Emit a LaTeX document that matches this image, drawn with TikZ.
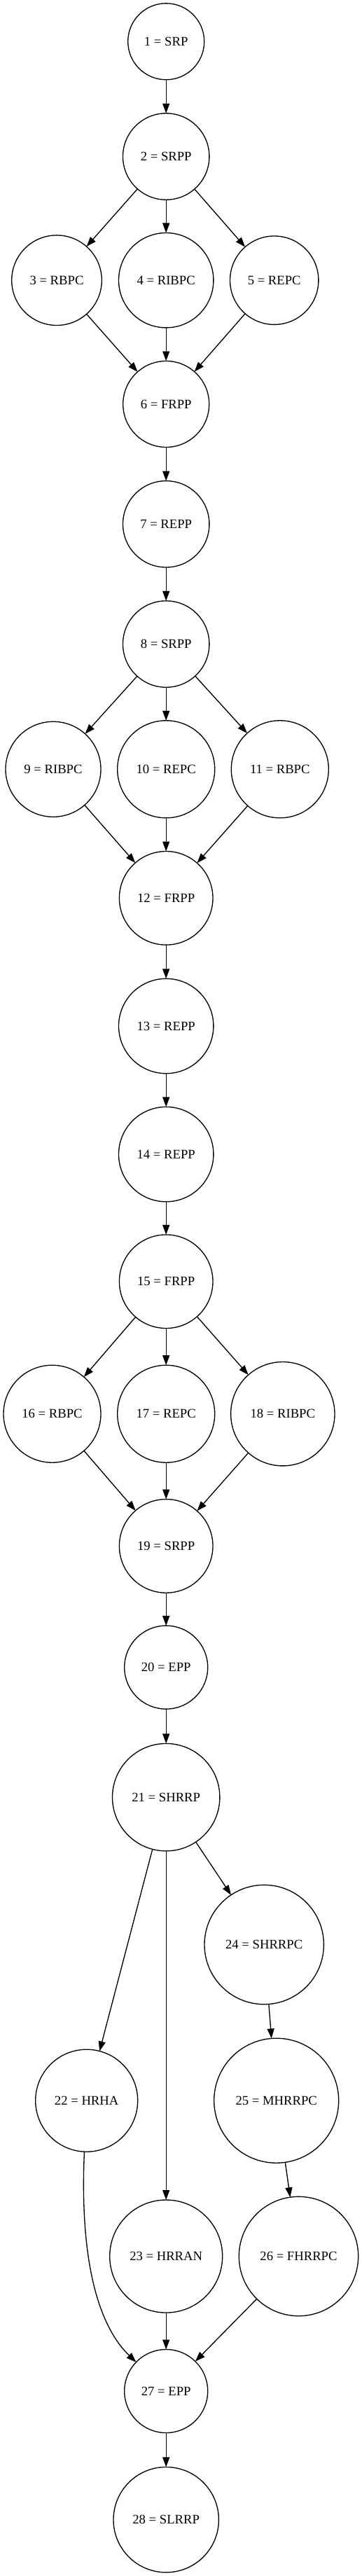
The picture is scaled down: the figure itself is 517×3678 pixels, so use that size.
\documentclass[tikz,border=0pt]{standalone}
\usepackage{fontspec}
\setmainfont{Liberation Serif}
\usetikzlibrary{arrows.meta}
\tikzset{
  gnode/.style={draw, circle, line width=1pt, inner sep=0pt, outer sep=0pt,
    font=\fontsize{14}{16}\selectfont},
  gedge/.style={line width=1pt, -{Triangle[length=10.5pt,width=7.5pt]}}
}
\newcommand{\gnd}[5]{\node[gnode, minimum size={2*#4*0.75pt}] (#1) at (#2,#3) {#5};}
\begin{document}
\begin{tikzpicture}[x=0.75pt,y=-0.75pt]
\useasboundingbox (0,0) rectangle (517,3678);
\gnd{n1}{237.2}{59.3}{54.5}{1 = SRP}
\gnd{n2}{237.2}{223.5}{61.7}{2 = SRPP}
\gnd{n3}{81}{400.2}{64.3}{3 = RBPC}
\gnd{n4}{237.2}{400.2}{67.7}{4 = RIBPC}
\gnd{n5}{391.7}{400.2}{63.2}{5 = REPC}
\gnd{n6}{237.2}{577}{61.5}{6 = FRPP}
\gnd{n7}{237.2}{748.3}{61.7}{7 = REPP}
\gnd{n8}{237.2}{919.6}{61.7}{8 = SRPP}
\gnd{n9}{76}{1098.3}{68}{9 = RIBPC}
\gnd{n10}{237.2}{1098.3}{69.5}{10 = REPC}
\gnd{n11}{399.8}{1098.3}{69.5}{11 = RBPC}
\gnd{n12}{237.2}{1282.3}{66.8}{12 = FRPP}
\gnd{n13}{237.2}{1465}{67.7}{13 = REPP}
\gnd{n14}{237.2}{1648.1}{67.7}{14 = REPP}
\gnd{n15}{237.2}{1829.7}{66.8}{15 = FRPP}
\gnd{n16}{74.5}{2018.7}{69.5}{16 = RBPC}
\gnd{n17}{237.2}{2018.7}{69.5}{17 = REPC}
\gnd{n18}{403.8}{2018.7}{74.2}{18 = RIBPC}
\gnd{n19}{237.2}{2207.4}{66.8}{19 = SRPP}
\gnd{n20}{237.2}{2380.6}{59.5}{20 = EPP}
\gnd{n21}{237.2}{2566.1}{76.7}{21 = SHRRP}
\gnd{n22}{123.7}{2999.2}{73}{22 = HRHA}
\gnd{n23}{237.2}{3221.5}{80.5}{23 = HRRAN}
\gnd{n24}{377.2}{2776.5}{85.2}{24 = SHRRPC}
\gnd{n25}{394.7}{2999.2}{89}{25 = MHRRPC}
\gnd{n26}{426.5}{3221.5}{85.2}{26 = FHRRPC}
\gnd{n27}{237.2}{3414}{59.5}{27 = EPP}
\gnd{n28}{237.2}{3597.6}{75.2}{28 = SLRRP}
\foreach \a/\b in {n1/n2,n2/n3,n2/n4,n2/n5,n3/n6,n4/n6,n5/n6,n6/n7,n7/n8,
  n8/n9,n8/n10,n8/n11,n9/n12,n10/n12,n11/n12,n12/n13,n13/n14,n14/n15,
  n15/n16,n15/n17,n15/n18,n16/n19,n17/n19,n18/n19,n19/n20,n20/n21,
  n21/n22,n21/n23,n21/n24,n24/n25,n25/n26,n23/n27,n26/n27,n27/n28}
  {\draw[gedge] (\a) -- (\b);}
\draw[gedge] (n22) .. controls (113,3240) and (145,3325) .. (n27);
\end{tikzpicture}
\end{document}
